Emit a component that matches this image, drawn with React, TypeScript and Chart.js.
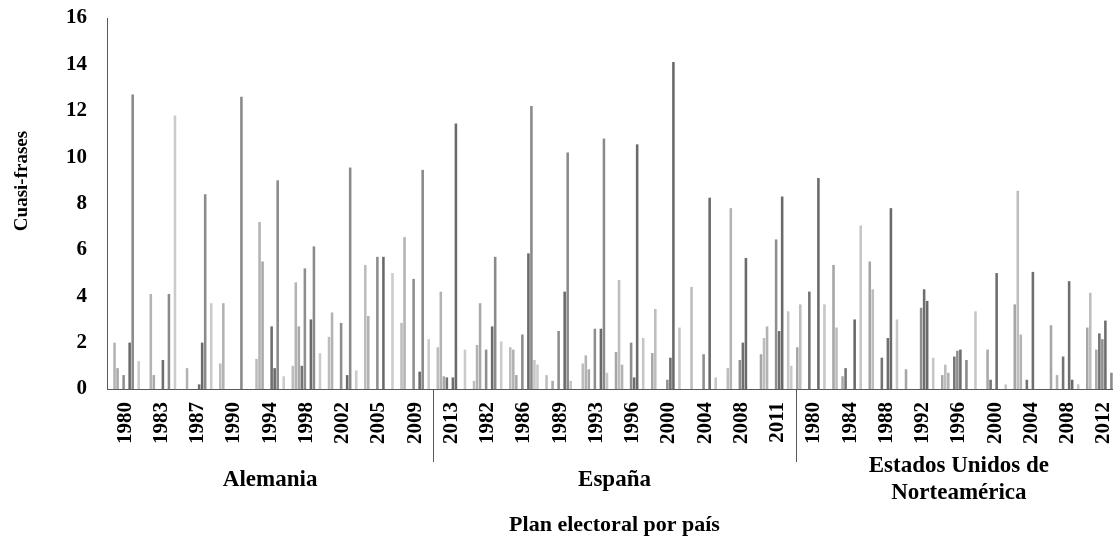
import React, { useEffect, useRef } from 'react';
import { Chart, registerables } from 'chart.js';

Chart.register(...registerables);

// ---- categories / labels ----
const yearLabels = [
  '1980', '1983', '1987', '1990', '1994', '1998', '2002', '2005', '2009', '2013',
  '1982', '1986', '1989', '1993', '1996', '2000', '2004', '2008', '2011',
  '1980', '1984', '1988', '1992', '1996', '2000', '2004', '2008', '2012',
];
const countryNames = ['Alemania', 'España', 'Estados Unidos de\nNorteamérica'];
const countryStarts = [0, 9, 19];
const yAxisTitle = 'Cuasi-frases';
const xAxisTitle = 'Plan electoral por país';
const yMin = 0;
const yMax = 16;
const yStep = 2;

// ---- series values (one value per category) ----
const serie01 = [0, 0, 0, 0, 0, 0, 0, 0, 0, 0, 0, 0, 0, 0, 1.6, 1.55, 0, 0, 1.5, 1.8, 5.35, 5.5, 0.85, 0.6, 0, 3.65, 2.75, 2.65];
const serie02 = [0, 0, 0, 1.1, 1.3, 1.0, 2.25, 5.35, 2.85, 1.8, 0.35, 1.8, 0.6, 1.1, 4.7, 3.45, 4.4, 0.9, 2.2, 3.65, 2.65, 4.3, 0, 1.05, 0, 8.55, 0, 4.15];
const serie03 = [2.0, 4.1, 0.9, 3.7, 7.2, 4.6, 3.3, 3.15, 6.55, 4.2, 1.9, 1.7, 0, 1.45, 1.05, 0, 0, 7.8, 2.7, 0, 0, 0, 0, 0.7, 0, 2.35, 0.6, 0];
const serie04 = [0.9, 0.6, 0, 0, 5.5, 2.7, 0, 0, 0, 0.55, 3.7, 0.6, 0.35, 0.85, 0, 0, 0, 0, 0, 0, 0.55, 0, 0, 0, 1.7, 0, 0, 1.7];
const serie05 = [0, 0, 0, 0, 0, 1.0, 0, 0, 0, 0.5, 0, 0, 0, 0, 0, 0, 0, 0, 0, 4.2, 0.9, 1.35, 0, 1.4, 0.4, 0.4, 1.4, 2.4];
const serie06 = [0.6, 0, 0, 0, 0, 5.2, 2.85, 5.7, 4.75, 0, 1.7, 2.35, 2.5, 2.6, 2.0, 0.4, 1.5, 1.25, 6.45, 0, 0, 0, 3.5, 1.65, 0, 0, 0, 2.15];
const serie07 = [0, 1.25, 0.2, 0, 2.7, 0, 0, 0, 0, 0.5, 0, 0, 0, 0, 0.5, 1.35, 0, 2.0, 2.5, 0, 0, 2.2, 4.3, 1.7, 5.0, 5.05, 4.65, 2.95];
const serie08 = [2.0, 0, 2.0, 0, 0.9, 3.0, 0.6, 5.7, 0.75, 11.45, 2.7, 5.85, 4.2, 2.6, 10.55, 14.1, 8.25, 5.65, 8.3, 9.1, 3.0, 7.8, 3.8, 0, 0, 0, 0.4, 0];
const serie09 = [12.7, 4.1, 8.4, 12.6, 9.0, 6.15, 9.55, 0, 9.45, 0, 5.7, 12.2, 10.2, 10.8, 0, 0, 0, 0, 0, 0, 0, 0, 0, 1.25, 0, 0, 0, 0.7];
const serie10 = [0, 0, 0, 0, 0, 0, 0, 0, 0, 0, 0, 1.25, 0.35, 0.7, 2.2, 2.65, 0.5, 0, 3.35, 3.65, 7.05, 3.0, 1.35, 0, 0.2, 0, 0.2, 0];
const serie11 = [1.2, 11.8, 3.7, 0, 0.55, 1.55, 0.8, 5.0, 2.15, 1.7, 2.05, 1.05, 0, 0, 0, 0, 0, 0, 1.0, 0, 0, 0, 0, 0, 0, 0, 0, 0];
const serie12 = [0, 0, 0, 0, 0, 0, 0, 0, 0, 0, 0, 0, 0, 0, 0, 0, 0, 0, 0, 0, 0, 0, 0, 3.35, 0, 0, 0, 0];

const seriesValues = [serie01, serie02, serie03, serie04, serie05, serie06, serie07, serie08, serie09, serie10, serie11, serie12];
const seriesColors = [
  '#a6a6a6', '#bdbdbd', '#b3b3b3', '#a9a9a9', '#737373', '#8e8e8e',
  '#6e6e6e', '#6a6a6a', '#8a8a8a', '#c6c6c6', '#cbcbcb', '#c6c6c6',
];

const FONT = '"Liberation Serif", "Times New Roman", serif';

const groupPlugin = {
  id: 'countryGroups',
  afterDraw(chart: any) {
    const { ctx, chartArea, scales } = chart;
    const x = scales.x;
    const half = (x.getPixelForValue(1) - x.getPixelForValue(0)) / 2;
    const bottom = chartArea.bottom;
    const seps = countryStarts.slice(1).map((i) => x.getPixelForValue(i) - half);
    ctx.save();
    ctx.strokeStyle = '#595959';
    ctx.lineWidth = 1;
    seps.forEach((sx: number) => {
      const px = Math.round(sx) + 0.5;
      ctx.beginPath();
      ctx.moveTo(px, bottom);
      ctx.lineTo(px, bottom + 73);
      ctx.stroke();
    });
    const bounds = [chartArea.left, ...seps, chartArea.right];
    ctx.fillStyle = '#000';
    ctx.textAlign = 'center';
    ctx.textBaseline = 'middle';
    ctx.font = `bold 23px ${FONT}`;
    countryNames.forEach((name, k) => {
      const cx = (bounds[k] + bounds[k + 1]) / 2;
      const lines = name.split('\n');
      const lh = 27;
      const cy = bottom + 91 - ((lines.length - 1) * lh) / 2;
      lines.forEach((ln, j) => ctx.fillText(ln, cx, cy + j * lh));
    });
    ctx.font = `bold 22px ${FONT}`;
    ctx.fillText(xAxisTitle, (chartArea.left + chartArea.right) / 2, bottom + 136);
    ctx.translate(22, chartArea.top + 163);
    ctx.rotate(-Math.PI / 2);
    ctx.font = `bold 19px ${FONT}`;
    ctx.fillText(yAxisTitle, 0, 0);
    ctx.restore();
  },
};

export default function App() {
  const ref = useRef<HTMLCanvasElement>(null);
  useEffect(() => {
    const chart = new Chart(ref.current as HTMLCanvasElement, {
      type: 'bar',
      data: {
        labels: yearLabels,
        datasets: seriesValues.map((d, i) => ({
          label: `Serie ${i + 1}`,
          data: d,
          backgroundColor: seriesColors[i],
          borderWidth: 0,
          categoryPercentage: 1,
          barPercentage: 0.85,
        })),
      },
      options: {
        responsive: false,
        animation: false,
        layout: { padding: { top: 18, left: 0, right: 0, bottom: 0 } },
        plugins: { legend: { display: false }, tooltip: { enabled: false } },
        scales: {
          x: {
            offset: true,
            grid: { display: false, drawTicks: false },
            border: { display: true, color: '#595959' },
            ticks: {
              autoSkip: false,
              minRotation: 90,
              maxRotation: 90,
              padding: 13,
              color: '#000',
              font: { family: FONT, size: 21, weight: 'bold' },
            },
            afterFit(s: any) {
              s.height = 150;
              s.paddingLeft = 0;
              s.paddingRight = 0;
            },
          },
          y: {
            min: yMin,
            max: yMax,
            grid: { display: false, drawTicks: false },
            border: { display: true, color: '#595959' },
            ticks: {
              stepSize: yStep,
              padding: 20,
              color: '#000',
              font: { family: FONT, size: 21, weight: 'bold' },
            },
            afterFit(s: any) {
              s.width = 107;
              s.paddingTop = 0;
              s.paddingBottom = 0;
            },
          },
        },
      },
      plugins: [groupPlugin],
    } as any);
    return () => chart.destroy();
  }, []);
  return (
    <div style={{ position: 'fixed', left: 0, top: 0, width: 1113, height: 539, overflow: 'hidden', background: '#fff' }}>
      <canvas ref={ref} width={1122} height={539} style={{ display: 'block' }} />
    </div>
  );
}
